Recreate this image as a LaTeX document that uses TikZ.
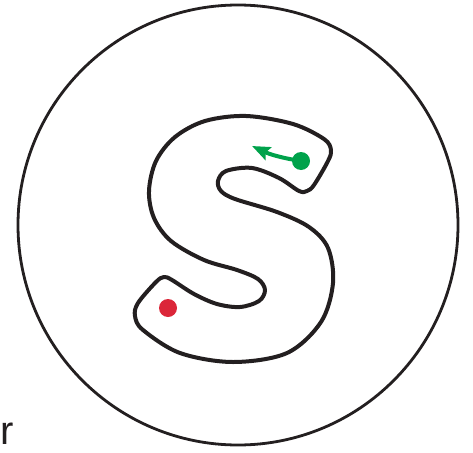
\documentclass[tikz,border=0pt]{standalone}
\usepackage{fontspec}
\setmainfont{Liberation Sans}
\usetikzlibrary{arrows.meta}
\definecolor{sgreen}{HTML}{00A24B}
\definecolor{sred}{HTML}{DB2639}
\definecolor{sblack}{HTML}{231F20}
\begin{document}
\begin{tikzpicture}[x=1pt,y=-1pt,
  outline/.style={draw=sblack,line width=2.8pt},
  curve/.style={draw=sblack,line width=4pt,line join=round},
  dot/.style={circle,inner sep=0pt,minimum size=18pt}]
\useasboundingbox (0,0) rectangle (473,452);
\node[outline,circle,minimum size=440pt,inner sep=0pt] (ring) at (238,225) {};
\draw[curve] plot[smooth cycle,tension=0.55] coordinates {
(331,150) (324,139) (293,124) (246,116) (205,121) (175,137) (156,161)
(149,191) (154,218) (171,241) (204,260) (237,270) (258,279) (265,290)
(259,301) (240,307) (217,304) (194,294) (172,280) (164,277) (156,282)
(138,303) (135,316) (143,330) (180,353) (233,362) (287,353) (321,322)
(333,283) (328,248) (309,227) (277,212) (235,199) (221,191) (218,181)
(226,171) (252,168) (279,178) (299,191) (307,191) (314,185) (328,161)};
\node[dot,fill=sgreen] (g) at (301,161) {};
\node[dot,fill=sred] (r) at (168,308) {};
\coordinate (tip) at (252,146);
\draw[sgreen,line width=4pt,-{Stealth[length=18pt,width=14pt,inset=3pt]}] (g.center) to[bend left=8] (tip);
\node[anchor=base west,inner sep=0pt,font=\fontsize{40}{40}\selectfont,text=sblack] (lbl) at (0,444) {r};
\end{tikzpicture}
\end{document}
